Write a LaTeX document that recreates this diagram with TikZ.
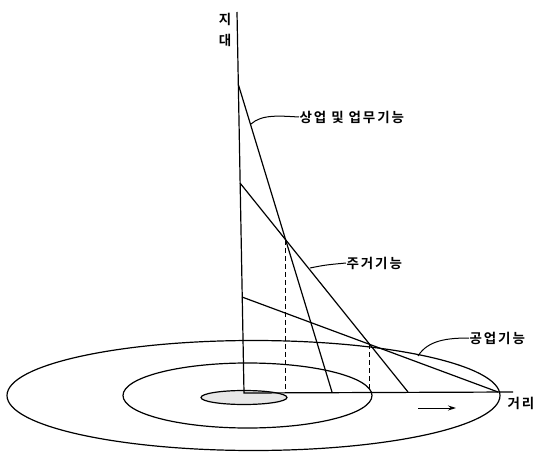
\documentclass[tikz,border=0pt]{standalone}
\usepackage{fontspec}
\usetikzlibrary{arrows.meta}
\newfontfamily\kr[LetterSpace=14, BoldFont={Noto Sans CJK KR Bold}]{Noto Sans CJK KR}
\begin{document}
\begin{tikzpicture}[x=1pt,y=-1pt, line width=1.2pt,
  lbl/.style={font=\kr\bfseries\fontsize{13.5}{15}\selectfont, inner sep=0pt, anchor=west},
  leader/.style={line width=1pt},
  guide/.style={line width=0.9pt, dash pattern=on 5pt off 3pt}]
\useasboundingbox (0,0) rectangle (536,452);
% zones
\draw[fill=gray!18] (244,397.5) ellipse [x radius=43, y radius=7];
\draw (247.5,395.5) ellipse [x radius=124.5, y radius=32.5];
\draw (253.5,395.5) ellipse [x radius=246.5, y radius=55];
% axes
\coordinate (top) at (237,12);
\coordinate (O) at (244,393);
\coordinate (xend) at (513,392);
\draw (top) -- (O) -- (xend);
% bid rent lines
\coordinate (A1) at (238.5,85);  \coordinate (B1) at (332,392);
\coordinate (A2) at (240,183);   \coordinate (B2) at (408,392);
\coordinate (A3) at (242,297);   \coordinate (B3) at (498,392);
\draw (A1) -- (B1);
\draw (A2) -- (B2);
\draw (A3) -- (B3);
\coordinate (P) at (intersection of A1--B1 and A2--B2);
\coordinate (Q) at (intersection of A2--B2 and A3--B3);
\draw[guide] (P) -- (P |- O);
\draw[guide] (Q) -- (Q |- O);
% labels
\node[font=\kr\bfseries\fontsize{13.5}{21}\selectfont, align=center, inner sep=0pt] (yl) at (225,30) {지\\대};
\node[lbl] (t1) at (299,117) {상업 및 업무기능};
\coordinate (l1) at (251,124);
\draw[leader] (l1) .. controls (262,114) and (280,116) .. (t1.west);
\node[lbl] (t2) at (346,263) {주거기능};
\coordinate (l2) at (310,268);
\draw[leader] (l2) .. controls (325,265) .. (t2.west);
\node[lbl] (t3) at (469,338) {공업기능};
\coordinate (l3) at (418,356);
\draw[leader] (l3) .. controls (428,340) and (448,338) .. (t3.west);
\node[lbl] (t4) at (507,403) {거리};
\coordinate (a1) at (418,408);
\coordinate (a2) at (456,408);
\draw[leader, -{Stealth[length=8pt, width=5pt]}] (a1) -- (a2);
\end{tikzpicture}
\end{document}
